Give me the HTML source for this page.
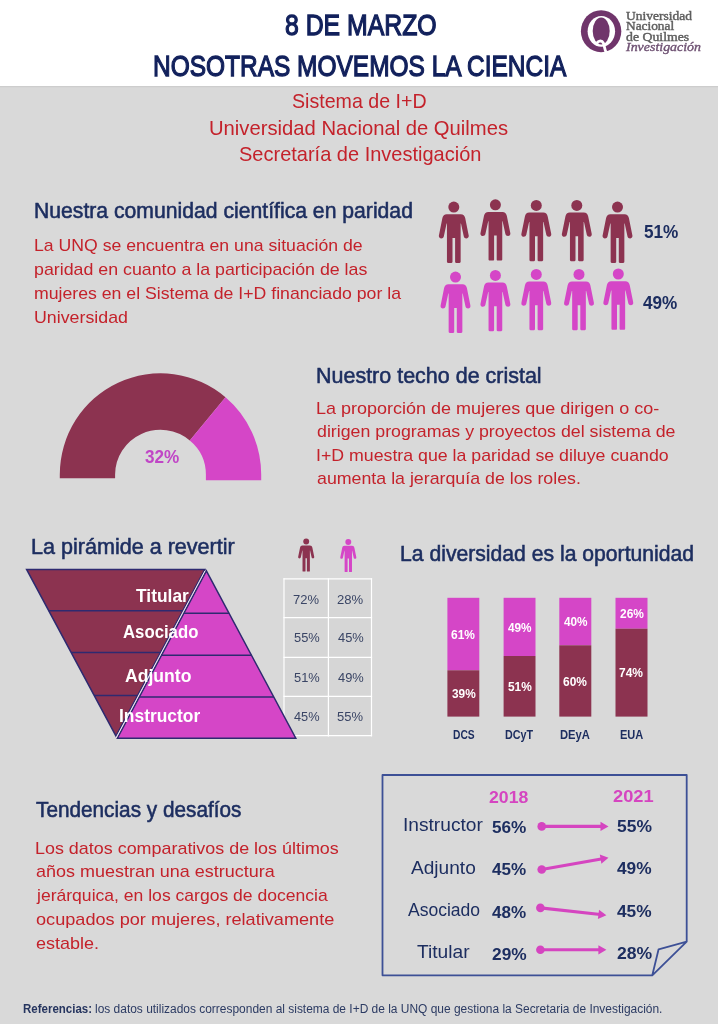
<!DOCTYPE html>
<html lang="es"><head><meta charset="utf-8"><title>8 de Marzo - Nosotras movemos la ciencia</title>
<style>
html,body{margin:0;padding:0;}
body{width:718px;height:1024px;background:#d9d9d9;position:relative;overflow:hidden;font-family:"Liberation Sans",sans-serif;}
svg{position:absolute;left:0;top:0;}
.t{position:absolute;white-space:nowrap;line-height:1;transform-origin:0 0;display:block;}
.s{font-family:"Liberation Serif",serif;}
#txt{position:absolute;left:0;top:0;width:718px;height:1024px;will-change:transform;}
</style></head><body>
<svg width="718" height="1024" viewBox="0 0 718 1024">
<rect x="0" y="0" width="718" height="86" fill="#fff"/>
<rect x="0" y="86" width="718" height="1.2" fill="#cdcdcd"/>
<ellipse cx="601.1" cy="31.2" rx="20.2" ry="21" fill="#70356b"/>
<ellipse cx="601.35" cy="31.3" rx="13.75" ry="15.4" fill="#fff"/>
<ellipse cx="601.2" cy="31" rx="8.5" ry="13.6" fill="#70356b"/>
<path d="M596.6 44 C597.6 40.6 601.8 39.8 603.4 43.2 C604.6 45.8 604.4 49.6 606.2 52.2" fill="none" stroke="#fff" stroke-width="2.8" stroke-linecap="round"/>
<g transform="translate(453.8 201.6) scale(1.000)" fill="#8c3350"><circle cx="0" cy="5.5" r="5.5"/><path d="M-7,12.7 L7,12.7 C9.5,12.7 10.8,14 11.4,16.5 L14.9,33.8 C15.3,36 13.8,36.8 12.6,36.8 C11.2,36.8 10.3,36 10,34.8 L7.2,22 L6.85,22 L6.85,60.2 C6.85,61 6.3,61.3 5.8,61.3 L2.3,61.3 C1.7,61.3 1.3,61 1.3,60.2 L1.3,36.3 L-1.3,36.3 L-1.3,60.2 C-1.3,61 -1.7,61.3 -2.3,61.3 L-5.8,61.3 C-6.3,61.3 -6.85,61 -6.85,60.2 L-6.85,22 L-7.2,22 L-10,34.8 C-10.3,36 -11.2,36.8 -12.6,36.8 C-13.8,36.8 -15.3,36 -14.9,33.8 L-11.4,16.5 C-10.8,14 -9.5,12.7 -7,12.7 Z"/></g>
<g transform="translate(495.4 199.3) scale(1.000)" fill="#8c3350"><circle cx="0" cy="5.5" r="5.5"/><path d="M-7,12.7 L7,12.7 C9.5,12.7 10.8,14 11.4,16.5 L14.9,33.8 C15.3,36 13.8,36.8 12.6,36.8 C11.2,36.8 10.3,36 10,34.8 L7.2,22 L6.85,22 L6.85,60.2 C6.85,61 6.3,61.3 5.8,61.3 L2.3,61.3 C1.7,61.3 1.3,61 1.3,60.2 L1.3,36.3 L-1.3,36.3 L-1.3,60.2 C-1.3,61 -1.7,61.3 -2.3,61.3 L-5.8,61.3 C-6.3,61.3 -6.85,61 -6.85,60.2 L-6.85,22 L-7.2,22 L-10,34.8 C-10.3,36 -11.2,36.8 -12.6,36.8 C-13.8,36.8 -15.3,36 -14.9,33.8 L-11.4,16.5 C-10.8,14 -9.5,12.7 -7,12.7 Z"/></g>
<g transform="translate(536.3 199.9) scale(1.000)" fill="#8c3350"><circle cx="0" cy="5.5" r="5.5"/><path d="M-7,12.7 L7,12.7 C9.5,12.7 10.8,14 11.4,16.5 L14.9,33.8 C15.3,36 13.8,36.8 12.6,36.8 C11.2,36.8 10.3,36 10,34.8 L7.2,22 L6.85,22 L6.85,60.2 C6.85,61 6.3,61.3 5.8,61.3 L2.3,61.3 C1.7,61.3 1.3,61 1.3,60.2 L1.3,36.3 L-1.3,36.3 L-1.3,60.2 C-1.3,61 -1.7,61.3 -2.3,61.3 L-5.8,61.3 C-6.3,61.3 -6.85,61 -6.85,60.2 L-6.85,22 L-7.2,22 L-10,34.8 C-10.3,36 -11.2,36.8 -12.6,36.8 C-13.8,36.8 -15.3,36 -14.9,33.8 L-11.4,16.5 C-10.8,14 -9.5,12.7 -7,12.7 Z"/></g>
<g transform="translate(576.8 199.9) scale(1.000)" fill="#8c3350"><circle cx="0" cy="5.5" r="5.5"/><path d="M-7,12.7 L7,12.7 C9.5,12.7 10.8,14 11.4,16.5 L14.9,33.8 C15.3,36 13.8,36.8 12.6,36.8 C11.2,36.8 10.3,36 10,34.8 L7.2,22 L6.85,22 L6.85,60.2 C6.85,61 6.3,61.3 5.8,61.3 L2.3,61.3 C1.7,61.3 1.3,61 1.3,60.2 L1.3,36.3 L-1.3,36.3 L-1.3,60.2 C-1.3,61 -1.7,61.3 -2.3,61.3 L-5.8,61.3 C-6.3,61.3 -6.85,61 -6.85,60.2 L-6.85,22 L-7.2,22 L-10,34.8 C-10.3,36 -11.2,36.8 -12.6,36.8 C-13.8,36.8 -15.3,36 -14.9,33.8 L-11.4,16.5 C-10.8,14 -9.5,12.7 -7,12.7 Z"/></g>
<g transform="translate(617.5 201.6) scale(1.000)" fill="#8c3350"><circle cx="0" cy="5.5" r="5.5"/><path d="M-7,12.7 L7,12.7 C9.5,12.7 10.8,14 11.4,16.5 L14.9,33.8 C15.3,36 13.8,36.8 12.6,36.8 C11.2,36.8 10.3,36 10,34.8 L7.2,22 L6.85,22 L6.85,60.2 C6.85,61 6.3,61.3 5.8,61.3 L2.3,61.3 C1.7,61.3 1.3,61 1.3,60.2 L1.3,36.3 L-1.3,36.3 L-1.3,60.2 C-1.3,61 -1.7,61.3 -2.3,61.3 L-5.8,61.3 C-6.3,61.3 -6.85,61 -6.85,60.2 L-6.85,22 L-7.2,22 L-10,34.8 C-10.3,36 -11.2,36.8 -12.6,36.8 C-13.8,36.8 -15.3,36 -14.9,33.8 L-11.4,16.5 C-10.8,14 -9.5,12.7 -7,12.7 Z"/></g>
<g transform="translate(455.5 271.6) scale(1.000)" fill="#d546c7"><circle cx="0" cy="5.5" r="5.5"/><path d="M-7,12.7 L7,12.7 C9.5,12.7 10.8,14 11.4,16.5 L14.9,33.8 C15.3,36 13.8,36.8 12.6,36.8 C11.2,36.8 10.3,36 10,34.8 L7.2,22 L6.85,22 L6.85,60.2 C6.85,61 6.3,61.3 5.8,61.3 L2.3,61.3 C1.7,61.3 1.3,61 1.3,60.2 L1.3,36.3 L-1.3,36.3 L-1.3,60.2 C-1.3,61 -1.7,61.3 -2.3,61.3 L-5.8,61.3 C-6.3,61.3 -6.85,61 -6.85,60.2 L-6.85,22 L-7.2,22 L-10,34.8 C-10.3,36 -11.2,36.8 -12.6,36.8 C-13.8,36.8 -15.3,36 -14.9,33.8 L-11.4,16.5 C-10.8,14 -9.5,12.7 -7,12.7 Z"/></g>
<g transform="translate(495.4 269.9) scale(1.000)" fill="#d546c7"><circle cx="0" cy="5.5" r="5.5"/><path d="M-7,12.7 L7,12.7 C9.5,12.7 10.8,14 11.4,16.5 L14.9,33.8 C15.3,36 13.8,36.8 12.6,36.8 C11.2,36.8 10.3,36 10,34.8 L7.2,22 L6.85,22 L6.85,60.2 C6.85,61 6.3,61.3 5.8,61.3 L2.3,61.3 C1.7,61.3 1.3,61 1.3,60.2 L1.3,36.3 L-1.3,36.3 L-1.3,60.2 C-1.3,61 -1.7,61.3 -2.3,61.3 L-5.8,61.3 C-6.3,61.3 -6.85,61 -6.85,60.2 L-6.85,22 L-7.2,22 L-10,34.8 C-10.3,36 -11.2,36.8 -12.6,36.8 C-13.8,36.8 -15.3,36 -14.9,33.8 L-11.4,16.5 C-10.8,14 -9.5,12.7 -7,12.7 Z"/></g>
<g transform="translate(536.3 268.9) scale(1.000)" fill="#d546c7"><circle cx="0" cy="5.5" r="5.5"/><path d="M-7,12.7 L7,12.7 C9.5,12.7 10.8,14 11.4,16.5 L14.9,33.8 C15.3,36 13.8,36.8 12.6,36.8 C11.2,36.8 10.3,36 10,34.8 L7.2,22 L6.85,22 L6.85,60.2 C6.85,61 6.3,61.3 5.8,61.3 L2.3,61.3 C1.7,61.3 1.3,61 1.3,60.2 L1.3,36.3 L-1.3,36.3 L-1.3,60.2 C-1.3,61 -1.7,61.3 -2.3,61.3 L-5.8,61.3 C-6.3,61.3 -6.85,61 -6.85,60.2 L-6.85,22 L-7.2,22 L-10,34.8 C-10.3,36 -11.2,36.8 -12.6,36.8 C-13.8,36.8 -15.3,36 -14.9,33.8 L-11.4,16.5 C-10.8,14 -9.5,12.7 -7,12.7 Z"/></g>
<g transform="translate(579.0 268.9) scale(1.000)" fill="#d546c7"><circle cx="0" cy="5.5" r="5.5"/><path d="M-7,12.7 L7,12.7 C9.5,12.7 10.8,14 11.4,16.5 L14.9,33.8 C15.3,36 13.8,36.8 12.6,36.8 C11.2,36.8 10.3,36 10,34.8 L7.2,22 L6.85,22 L6.85,60.2 C6.85,61 6.3,61.3 5.8,61.3 L2.3,61.3 C1.7,61.3 1.3,61 1.3,60.2 L1.3,36.3 L-1.3,36.3 L-1.3,60.2 C-1.3,61 -1.7,61.3 -2.3,61.3 L-5.8,61.3 C-6.3,61.3 -6.85,61 -6.85,60.2 L-6.85,22 L-7.2,22 L-10,34.8 C-10.3,36 -11.2,36.8 -12.6,36.8 C-13.8,36.8 -15.3,36 -14.9,33.8 L-11.4,16.5 C-10.8,14 -9.5,12.7 -7,12.7 Z"/></g>
<g transform="translate(618.3 268.5) scale(1.000)" fill="#d546c7"><circle cx="0" cy="5.5" r="5.5"/><path d="M-7,12.7 L7,12.7 C9.5,12.7 10.8,14 11.4,16.5 L14.9,33.8 C15.3,36 13.8,36.8 12.6,36.8 C11.2,36.8 10.3,36 10,34.8 L7.2,22 L6.85,22 L6.85,60.2 C6.85,61 6.3,61.3 5.8,61.3 L2.3,61.3 C1.7,61.3 1.3,61 1.3,60.2 L1.3,36.3 L-1.3,36.3 L-1.3,60.2 C-1.3,61 -1.7,61.3 -2.3,61.3 L-5.8,61.3 C-6.3,61.3 -6.85,61 -6.85,60.2 L-6.85,22 L-7.2,22 L-10,34.8 C-10.3,36 -11.2,36.8 -12.6,36.8 C-13.8,36.8 -15.3,36 -14.9,33.8 L-11.4,16.5 C-10.8,14 -9.5,12.7 -7,12.7 Z"/></g>
<path d="M59.8,478.3 L59.8,474.6 A100.7,101.3 0 0 1 225.50,397.23 L189.80,440.38 A45.4,44.8 0 0 0 115.1,474.6 L115.1,478.3 Z" fill="#8c3350"/>
<path d="M225.50,397.23 A100.7,101.3 0 0 1 261.2,474.6 L261.2,480.3 L205.9,480.3 L205.9,474.6 A45.4,44.8 0 0 0 189.80,440.38 Z" fill="#d546c7"/>
<rect x="284" y="578.9" width="87.5" height="156.8" fill="#d6d6d6"/>
<line x1="284.0" y1="578.2" x2="284.0" y2="736.4" stroke="#fff" stroke-width="1.2"/>
<line x1="328.4" y1="578.2" x2="328.4" y2="736.4" stroke="#fff" stroke-width="1.2"/>
<line x1="371.5" y1="578.2" x2="371.5" y2="736.4" stroke="#fff" stroke-width="1.2"/>
<line x1="283.4" y1="578.9" x2="372.1" y2="578.9" stroke="#fff" stroke-width="1.2"/>
<line x1="283.4" y1="617.6" x2="372.1" y2="617.6" stroke="#fff" stroke-width="1.2"/>
<line x1="283.4" y1="657.3" x2="372.1" y2="657.3" stroke="#fff" stroke-width="1.2"/>
<line x1="283.4" y1="696.4" x2="372.1" y2="696.4" stroke="#fff" stroke-width="1.2"/>
<line x1="283.4" y1="735.7" x2="372.1" y2="735.7" stroke="#fff" stroke-width="1.2"/>
<g transform="translate(306.2 538.6) scale(0.538)" fill="#8c3350"><circle cx="0" cy="5.5" r="5.5"/><path d="M-7,12.7 L7,12.7 C9.5,12.7 10.8,14 11.4,16.5 L14.9,33.8 C15.3,36 13.8,36.8 12.6,36.8 C11.2,36.8 10.3,36 10,34.8 L7.2,22 L6.85,22 L6.85,60.2 C6.85,61 6.3,61.3 5.8,61.3 L2.3,61.3 C1.7,61.3 1.3,61 1.3,60.2 L1.3,36.3 L-1.3,36.3 L-1.3,60.2 C-1.3,61 -1.7,61.3 -2.3,61.3 L-5.8,61.3 C-6.3,61.3 -6.85,61 -6.85,60.2 L-6.85,22 L-7.2,22 L-10,34.8 C-10.3,36 -11.2,36.8 -12.6,36.8 C-13.8,36.8 -15.3,36 -14.9,33.8 L-11.4,16.5 C-10.8,14 -9.5,12.7 -7,12.7 Z"/></g>
<g transform="translate(348.3 539.0) scale(0.538)" fill="#d546c7"><circle cx="0" cy="5.5" r="5.5"/><path d="M-7,12.7 L7,12.7 C9.5,12.7 10.8,14 11.4,16.5 L14.9,33.8 C15.3,36 13.8,36.8 12.6,36.8 C11.2,36.8 10.3,36 10,34.8 L7.2,22 L6.85,22 L6.85,60.2 C6.85,61 6.3,61.3 5.8,61.3 L2.3,61.3 C1.7,61.3 1.3,61 1.3,60.2 L1.3,36.3 L-1.3,36.3 L-1.3,60.2 C-1.3,61 -1.7,61.3 -2.3,61.3 L-5.8,61.3 C-6.3,61.3 -6.85,61 -6.85,60.2 L-6.85,22 L-7.2,22 L-10,34.8 C-10.3,36 -11.2,36.8 -12.6,36.8 C-13.8,36.8 -15.3,36 -14.9,33.8 L-11.4,16.5 C-10.8,14 -9.5,12.7 -7,12.7 Z"/></g>
<polygon points="26.6,569.4 204.9,569.4 116.0,736.2" fill="#8c3350" stroke="#2e2a70" stroke-width="1.5" stroke-linejoin="miter"/>
<line x1="48.8" y1="610.8" x2="182.8" y2="610.8" stroke="#2e2a70" stroke-width="1.5"/>
<line x1="71.1" y1="652.5" x2="160.6" y2="652.5" stroke="#2e2a70" stroke-width="1.5"/>
<line x1="94.1" y1="695.4" x2="137.7" y2="695.4" stroke="#2e2a70" stroke-width="1.5"/>
<polygon points="206.4,570.9 295.8,738.2 117.4,738.2" fill="#d546c7" stroke="#2e2a70" stroke-width="1.5"/>
<line x1="183.8" y1="613.3" x2="229.1" y2="613.3" stroke="#2e2a70" stroke-width="1.5"/>
<line x1="161.5" y1="655.3" x2="251.5" y2="655.3" stroke="#2e2a70" stroke-width="1.5"/>
<line x1="139.3" y1="697.0" x2="273.8" y2="697.0" stroke="#2e2a70" stroke-width="1.5"/>
<line x1="204.9" y1="570.9" x2="115.9" y2="738.2" stroke="#f3e3f0" stroke-width="1"/>
<rect x="447.4" y="597.8" width="31.9" height="72.5" fill="#d546c7"/>
<rect x="447.4" y="670.3" width="31.9" height="46.3" fill="#8c3350"/>
<rect x="503.6" y="597.8" width="31.9" height="58.2" fill="#d546c7"/>
<rect x="503.6" y="656.0" width="31.9" height="60.6" fill="#8c3350"/>
<rect x="559.3" y="597.8" width="32.0" height="47.5" fill="#d546c7"/>
<rect x="559.3" y="645.3" width="32.0" height="71.3" fill="#8c3350"/>
<rect x="615.5" y="597.8" width="32.0" height="30.9" fill="#d546c7"/>
<rect x="615.5" y="628.7" width="32.0" height="87.9" fill="#8c3350"/>
<path d="M652.3,975.3 L382.5,975.3 L382.5,775 L686.7,775 L686.7,941.7 L652.3,975.3 L658.6,949.3 L686.7,941.7" fill="none" stroke="#3d5096" stroke-width="1.8" stroke-linejoin="round"/>
<defs><marker id="ah" markerWidth="8" markerHeight="10" refX="7.5" refY="5" orient="auto" markerUnits="userSpaceOnUse"><path d="M0,0 L8,5 L0,10 Z" fill="#d545c0"/></marker></defs>
<circle cx="541.7" cy="826.4" r="4.3" fill="#d545c0"/>
<line x1="541.7" y1="826.4" x2="602.5" y2="826.4" stroke="#d545c0" stroke-width="3.1"/>
<polygon points="608.5,826.4 600.5,831.0 600.5,821.8" fill="#d545c0"/>
<circle cx="541.7" cy="869.5" r="4.3" fill="#d545c0"/>
<line x1="541.7" y1="869.5" x2="602.6" y2="858.8" stroke="#d545c0" stroke-width="3.1"/>
<polygon points="608.5,857.8 601.4,863.7 599.8,854.6" fill="#d545c0"/>
<circle cx="540.4" cy="907.9" r="4.3" fill="#d545c0"/>
<line x1="540.4" y1="907.9" x2="600.4" y2="914.5" stroke="#d545c0" stroke-width="3.1"/>
<polygon points="606.4,915.2 597.9,918.9 599.0,909.7" fill="#d545c0"/>
<circle cx="540.4" cy="949.8" r="4.3" fill="#d545c0"/>
<line x1="540.4" y1="949.8" x2="600.4" y2="949.8" stroke="#d545c0" stroke-width="3.1"/>
<polygon points="606.4,949.8 598.4,954.4 598.4,945.2" fill="#d545c0"/>
</svg>
<div id="txt">
<span class="t" style="left:284.96px;top:9.90px;font-size:30.0px;color:#12215c;transform:scaleX(0.8267);-webkit-text-stroke:1.3px #12215c;">8 DE MARZO</span>
<span class="t" style="left:152.92px;top:50.70px;font-size:30.0px;color:#12215c;transform:scaleX(0.8155);-webkit-text-stroke:1.3px #12215c;">NOSOTRAS MOVEMOS LA CIENCIA</span>
<span class="t" style="left:292.09px;top:91.49px;font-size:20.8px;color:#c4222b;transform:scaleX(0.9427);">Sistema de I+D</span>
<span class="t" style="left:209.04px;top:118.19px;font-size:20.8px;color:#c4222b;transform:scaleX(0.9726);">Universidad Nacional de Quilmes</span>
<span class="t" style="left:238.57px;top:144.19px;font-size:20.8px;color:#c4222b;transform:scaleX(0.9619);">Secretaría de Investigación</span>
<span class="t s" style="left:626.20px;top:10.82px;font-size:11.8px;color:#5e5e5e;transform:scaleX(1.1441);-webkit-text-stroke:0.4px #5e5e5e;">Universidad</span>
<span class="t s" style="left:626.09px;top:21.32px;font-size:11.8px;color:#5e5e5e;transform:scaleX(1.1304);-webkit-text-stroke:0.4px #5e5e5e;">Nacional</span>
<span class="t s" style="left:625.97px;top:31.52px;font-size:11.8px;color:#5e5e5e;transform:scaleX(1.1699);-webkit-text-stroke:0.4px #5e5e5e;">de Quilmes</span>
<span class="t s" style="left:626.47px;top:42.12px;font-size:11.8px;color:#6f5273;transform:scaleX(1.1807);font-style:italic;-webkit-text-stroke:0.35px #6f5273;">Investigación</span>
<span class="t" style="left:33.61px;top:199.61px;font-size:22.2px;color:#1d2e60;transform:scaleX(0.9541);-webkit-text-stroke:0.55px #1d2e60;">Nuestra comunidad científica en paridad</span>
<span class="t" style="left:33.62px;top:237.21px;font-size:17.0px;color:#c4222b;transform:scaleX(1.0379);">La UNQ se encuentra en una situación de</span>
<span class="t" style="left:33.89px;top:260.81px;font-size:17.0px;color:#c4222b;transform:scaleX(1.0467);">paridad en cuanto a la participación de las</span>
<span class="t" style="left:33.90px;top:284.81px;font-size:17.0px;color:#c4222b;transform:scaleX(1.0398);">mujeres en el Sistema de I+D financiado por la</span>
<span class="t" style="left:33.89px;top:308.71px;font-size:17.0px;color:#c4222b;transform:scaleX(1.0462);">Universidad</span>
<span class="t" style="left:644.13px;top:223.70px;font-size:17.6px;color:#1d2e60;transform:scaleX(0.9769);font-weight:bold;">51%</span>
<span class="t" style="left:643.40px;top:294.70px;font-size:17.6px;color:#1d2e60;transform:scaleX(0.9749);font-weight:bold;">49%</span>
<span class="t" style="left:145.23px;top:448.65px;font-size:17.9px;color:#c046c6;transform:scaleX(0.9577);font-weight:bold;">32%</span>
<span class="t" style="left:316.09px;top:365.01px;font-size:22.2px;color:#1d2e60;transform:scaleX(0.9681);-webkit-text-stroke:0.55px #1d2e60;">Nuestro techo de cristal</span>
<span class="t" style="left:316.39px;top:399.71px;font-size:17.0px;color:#c4222b;transform:scaleX(1.0590);">La proporción de mujeres que dirigen o co-</span>
<span class="t" style="left:317.24px;top:423.41px;font-size:17.0px;color:#c4222b;transform:scaleX(1.0451);">dirigen programas y proyectos del sistema de</span>
<span class="t" style="left:316.41px;top:446.51px;font-size:17.0px;color:#c4222b;transform:scaleX(1.0437);">I+D muestra que la paridad se diluye cuando</span>
<span class="t" style="left:317.24px;top:469.71px;font-size:17.0px;color:#c4222b;transform:scaleX(1.0458);">aumenta la jerarquía de los roles.</span>
<span class="t" style="left:31.18px;top:535.51px;font-size:22.2px;color:#1d2e60;transform:scaleX(0.9719);-webkit-text-stroke:0.55px #1d2e60;">La pirámide a revertir</span>
<span class="t" style="left:135.70px;top:588.35px;font-size:17.9px;color:#ffffff;transform:scaleX(0.9719);font-weight:bold;">Titular</span>
<span class="t" style="left:122.74px;top:624.45px;font-size:17.9px;color:#ffffff;transform:scaleX(0.9360);font-weight:bold;">Asociado</span>
<span class="t" style="left:125.43px;top:667.85px;font-size:17.9px;color:#ffffff;transform:scaleX(0.9830);font-weight:bold;">Adjunto</span>
<span class="t" style="left:119.21px;top:707.75px;font-size:17.9px;color:#ffffff;transform:scaleX(0.9724);font-weight:bold;">Instructor</span>
<span class="t" style="left:293.29px;top:592.69px;font-size:13.6px;color:#3a4565;transform:scaleX(0.9550);">72%</span>
<span class="t" style="left:337.19px;top:592.69px;font-size:13.6px;color:#3a4565;transform:scaleX(0.9627);">28%</span>
<span class="t" style="left:293.50px;top:631.49px;font-size:13.6px;color:#3a4565;transform:scaleX(0.9473);">55%</span>
<span class="t" style="left:337.60px;top:631.49px;font-size:13.6px;color:#3a4565;transform:scaleX(0.9473);">45%</span>
<span class="t" style="left:293.50px;top:671.19px;font-size:13.6px;color:#3a4565;transform:scaleX(0.9473);">51%</span>
<span class="t" style="left:337.60px;top:671.19px;font-size:13.6px;color:#3a4565;transform:scaleX(0.9473);">49%</span>
<span class="t" style="left:293.70px;top:709.99px;font-size:13.6px;color:#3a4565;transform:scaleX(0.9398);">45%</span>
<span class="t" style="left:337.39px;top:709.99px;font-size:13.6px;color:#3a4565;transform:scaleX(0.9549);">55%</span>
<span class="t" style="left:399.71px;top:543.31px;font-size:22.2px;color:#1d2e60;transform:scaleX(0.9536);-webkit-text-stroke:0.55px #1d2e60;">La diversidad es la oportunidad</span>
<span class="t" style="left:451.32px;top:628.87px;font-size:12.6px;color:#ffffff;transform:scaleX(0.9483);font-weight:bold;">61%</span>
<span class="t" style="left:451.51px;top:688.27px;font-size:12.6px;color:#ffffff;transform:scaleX(0.9406);font-weight:bold;">39%</span>
<span class="t" style="left:452.84px;top:728.92px;font-size:12.5px;color:#1d2e60;transform:scaleX(0.8206);font-weight:bold;">DCS</span>
<span class="t" style="left:507.81px;top:621.74px;font-size:12.6px;color:#ffffff;transform:scaleX(0.9368);font-weight:bold;">49%</span>
<span class="t" style="left:507.62px;top:681.14px;font-size:12.6px;color:#ffffff;transform:scaleX(0.9444);font-weight:bold;">51%</span>
<span class="t" style="left:504.81px;top:728.92px;font-size:12.5px;color:#1d2e60;transform:scaleX(0.8597);font-weight:bold;">DCyT</span>
<span class="t" style="left:563.56px;top:616.39px;font-size:12.6px;color:#ffffff;transform:scaleX(0.9368);font-weight:bold;">40%</span>
<span class="t" style="left:563.27px;top:675.79px;font-size:12.6px;color:#ffffff;transform:scaleX(0.9483);font-weight:bold;">60%</span>
<span class="t" style="left:560.48px;top:728.92px;font-size:12.5px;color:#1d2e60;transform:scaleX(0.8971);font-weight:bold;">DEyA</span>
<span class="t" style="left:619.52px;top:608.08px;font-size:12.6px;color:#ffffff;transform:scaleX(0.9464);font-weight:bold;">26%</span>
<span class="t" style="left:619.42px;top:667.48px;font-size:12.6px;color:#ffffff;transform:scaleX(0.9502);font-weight:bold;">74%</span>
<span class="t" style="left:619.69px;top:728.92px;font-size:12.5px;color:#1d2e60;transform:scaleX(0.8827);font-weight:bold;">EUA</span>
<span class="t" style="left:35.93px;top:798.91px;font-size:22.2px;color:#1d2e60;transform:scaleX(0.9358);-webkit-text-stroke:0.55px #1d2e60;">Tendencias y desafíos</span>
<span class="t" style="left:35.00px;top:839.61px;font-size:17.0px;color:#c4222b;transform:scaleX(1.0540);">Los datos comparativos de los últimos</span>
<span class="t" style="left:35.84px;top:863.21px;font-size:17.0px;color:#c4222b;transform:scaleX(1.0571);">años muestran una estructura</span>
<span class="t" style="left:36.95px;top:886.71px;font-size:17.0px;color:#c4222b;transform:scaleX(1.0324);">jerárquica, en los cargos de docencia</span>
<span class="t" style="left:35.83px;top:910.51px;font-size:17.0px;color:#c4222b;transform:scaleX(1.0665);">ocupados por mujeres, relativamente</span>
<span class="t" style="left:35.84px;top:934.61px;font-size:17.0px;color:#c4222b;transform:scaleX(1.0579);">estable.</span>
<span class="t" style="left:488.55px;top:789.27px;font-size:17.4px;color:#d545c0;transform:scaleX(1.0151);font-weight:bold;">2018</span>
<span class="t" style="left:612.63px;top:787.97px;font-size:17.4px;color:#d545c0;transform:scaleX(1.0495);font-weight:bold;">2021</span>
<span class="t" style="left:403.10px;top:817.29px;font-size:17.5px;color:#1d2e60;transform:scaleX(1.0939);">Instructor</span>
<span class="t" style="left:411.30px;top:859.69px;font-size:17.5px;color:#1d2e60;transform:scaleX(1.0913);">Adjunto</span>
<span class="t" style="left:407.60px;top:901.79px;font-size:17.5px;color:#1d2e60;transform:scaleX(1.0017);">Asociado</span>
<span class="t" style="left:417.30px;top:943.89px;font-size:17.5px;color:#1d2e60;transform:scaleX(1.0964);">Titular</span>
<span class="t" style="left:492.03px;top:818.67px;font-size:17.4px;color:#1d2e60;transform:scaleX(0.9881);font-weight:bold;">56%</span>
<span class="t" style="left:616.93px;top:817.87px;font-size:17.4px;color:#1d2e60;transform:scaleX(1.0027);font-weight:bold;">55%</span>
<span class="t" style="left:492.30px;top:861.07px;font-size:17.4px;color:#1d2e60;transform:scaleX(0.9804);font-weight:bold;">45%</span>
<span class="t" style="left:617.20px;top:860.47px;font-size:17.4px;color:#1d2e60;transform:scaleX(0.9948);font-weight:bold;">49%</span>
<span class="t" style="left:492.30px;top:903.67px;font-size:17.4px;color:#1d2e60;transform:scaleX(0.9804);font-weight:bold;">48%</span>
<span class="t" style="left:617.20px;top:903.17px;font-size:17.4px;color:#1d2e60;transform:scaleX(0.9948);font-weight:bold;">45%</span>
<span class="t" style="left:491.76px;top:945.77px;font-size:17.4px;color:#1d2e60;transform:scaleX(0.9960);font-weight:bold;">29%</span>
<span class="t" style="left:616.65px;top:945.27px;font-size:17.4px;color:#1d2e60;transform:scaleX(1.0107);font-weight:bold;">28%</span>
<span class="t" style="left:23.25px;top:1003.39px;font-size:12.3px;color:#26355f;transform:scaleX(0.9348);font-weight:bold;">Referencias:</span>
<span class="t" style="left:94.52px;top:1003.39px;font-size:12.3px;color:#2c3b63;transform:scaleX(0.9715);">los datos utilizados corresponden al sistema de I+D de la UNQ que gestiona la Secretaria de Investigación.</span>
</div>
</body></html>
